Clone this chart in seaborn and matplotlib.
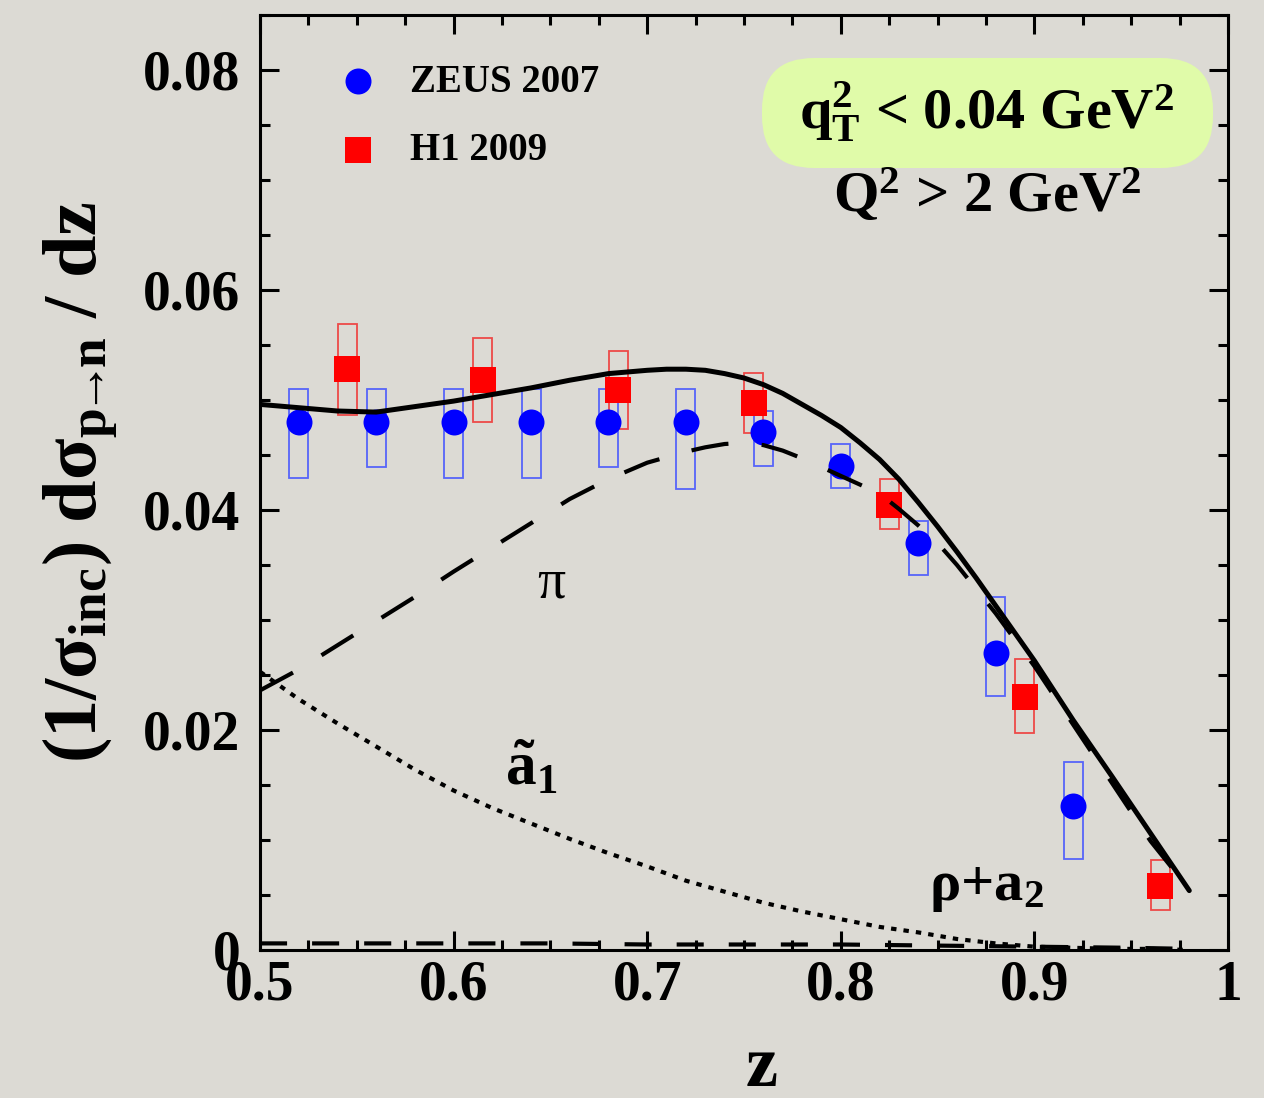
import numpy as np
import matplotlib
matplotlib.use("Agg")
import matplotlib.pyplot as plt
import seaborn as sns
from matplotlib.patches import FancyBboxPatch
from matplotlib.ticker import FixedLocator, FixedFormatter, MultipleLocator

# ---------------- data ----------------
zeus_z = [0.52, 0.56, 0.60, 0.64, 0.68, 0.72, 0.76, 0.80, 0.84, 0.88, 0.92]
zeus_val = [0.0480, 0.0480, 0.0480, 0.0480, 0.0480, 0.0480, 0.0471, 0.0440, 0.0370, 0.0270, 0.0131]
zeus_lo = [0.0429, 0.0439, 0.0429, 0.0429, 0.0439, 0.0419, 0.0440, 0.0420, 0.0341, 0.0231, 0.0083]
zeus_hi = [0.0510, 0.0510, 0.0510, 0.0510, 0.0510, 0.0510, 0.0490, 0.0460, 0.0390, 0.0321, 0.0171]

h1_z = [0.545, 0.615, 0.685, 0.755, 0.825, 0.895, 0.965]
h1_val = [0.0528, 0.0518, 0.0509, 0.0497, 0.0405, 0.0230, 0.0058]
h1_lo = [0.0486, 0.0480, 0.0474, 0.0470, 0.0383, 0.0197, 0.0036]
h1_hi = [0.0569, 0.0556, 0.0545, 0.0525, 0.0428, 0.0265, 0.0082]

# full model (solid)
total_z = [0.50, 0.52, 0.54, 0.56, 0.58, 0.60, 0.62, 0.64, 0.66, 0.68, 0.70, 0.71, 0.72,
           0.73, 0.74, 0.75, 0.76, 0.77, 0.78, 0.79, 0.80, 0.81, 0.82, 0.83, 0.84, 0.85,
           0.86, 0.87, 0.88, 0.89, 0.90, 0.92, 0.94, 0.96, 0.98]
total = [0.0496, 0.0493, 0.0490, 0.0489, 0.0494, 0.0499, 0.0505, 0.0511, 0.0518, 0.0524,
         0.0527, 0.0528, 0.0528, 0.0527, 0.0524, 0.0520, 0.0514, 0.0506, 0.0496, 0.0486,
         0.0475, 0.0461, 0.0446, 0.0428, 0.0407, 0.0385, 0.0362, 0.0338, 0.0313, 0.0288,
         0.0263, 0.0209, 0.0158, 0.0106, 0.0054]
# pion exchange (dashed)
pion_z = [0.50, 0.52, 0.54, 0.56, 0.58, 0.60, 0.62, 0.64, 0.66, 0.68, 0.70, 0.71, 0.72,
          0.73, 0.74, 0.75, 0.76, 0.77, 0.78, 0.79, 0.80, 0.81, 0.82, 0.83, 0.84, 0.85,
          0.86, 0.88, 0.90, 0.92, 0.94, 0.96, 0.98]
pion = [0.0236, 0.0255, 0.0277, 0.0299, 0.0321, 0.0344, 0.0366, 0.0388, 0.0410, 0.0428,
        0.0443, 0.0448, 0.0453, 0.0457, 0.0460, 0.0461, 0.0459, 0.0454, 0.0447, 0.0439,
        0.0431, 0.0423, 0.0415, 0.0401, 0.0386, 0.0370, 0.0350, 0.0306, 0.0258, 0.0205,
        0.0152, 0.0099, 0.0055]
# a1-tilde exchange (dotted)
a1_z = [0.50, 0.52, 0.54, 0.56, 0.58, 0.60, 0.62, 0.64, 0.66, 0.68, 0.70, 0.72, 0.74,
        0.76, 0.78, 0.80, 0.82, 0.84, 0.86, 0.88, 0.90, 0.92, 0.94, 0.96, 0.98]
a1 = [0.0253, 0.0228, 0.0206, 0.0185, 0.0164, 0.0145, 0.0129, 0.0115, 0.0101, 0.0088,
      0.0076, 0.0063, 0.0053, 0.0043, 0.0035, 0.0028, 0.0021, 0.0016, 0.0010, 0.0006,
      0.0003, 0.0002, 0.0001, 0.0001, 0.0000]
# rho + a2 exchange (dashed, near zero)
rho_z = [0.50, 0.55, 0.60, 0.65, 0.70, 0.75, 0.80, 0.85, 0.90, 0.95, 0.98]
rho_a2 = [0.0006, 0.0006, 0.0006, 0.0006, 0.0005, 0.0005, 0.0005, 0.0004, 0.0003, 0.0002, 0.0001]

x_ticks = [0.5, 0.6, 0.7, 0.8, 0.9, 1.0]
x_tick_labels = ["0.5", "0.6", "0.7", "0.8", "0.9", "1"]
y_ticks = [0.0, 0.02, 0.04, 0.06, 0.08]
y_tick_labels = ["0", "0.02", "0.04", "0.06", "0.08"]

# ---------------- style ----------------
sns.set_theme(style="ticks")
plt.rcParams["font.family"] = ["Liberation Serif", "DejaVu Serif"]
plt.rcParams["mathtext.fontset"] = "custom"
plt.rcParams["mathtext.rm"] = "Liberation Serif"
plt.rcParams["mathtext.bf"] = "Liberation Serif:bold"
plt.rcParams["mathtext.it"] = "Liberation Serif:italic"
plt.rcParams["text.color"] = "black"

bg = "#dcdad4"
W, H = 1264, 1098
fig = plt.figure(figsize=(W / 100, H / 100), dpi=100, facecolor=bg)
ax = fig.add_axes([260 / W, 1 - 950 / H, 968 / W, 935 / H], facecolor=bg)


def fx(px):
    return px / W


def fy(py):
    return 1 - py / H


# systematic boxes
ax.bar(zeus_z, np.subtract(zeus_hi, zeus_lo), bottom=zeus_lo, width=0.0098,
       fill=False, edgecolor="#4050ff", linewidth=1.3, alpha=0.85, zorder=2)
ax.bar(h1_z, np.subtract(h1_hi, h1_lo), bottom=h1_lo, width=0.0098,
       fill=False, edgecolor="#f03030", linewidth=1.3, alpha=0.85, zorder=2)

# data points
sns.scatterplot(x=zeus_z, y=zeus_val, marker="o", s=350, color="#0000ff",
                linewidth=0, ax=ax, label="ZEUS 2007", zorder=3)
sns.scatterplot(x=h1_z, y=h1_val, marker="s", s=350, color="#ff0000",
                linewidth=0, ax=ax, label="H1 2009", zorder=3)

# theory curves
sns.lineplot(x=total_z, y=total, color="black", linewidth=3.6, ax=ax, zorder=5,
             errorbar=None, legend=False)
sns.lineplot(x=pion_z, y=pion, color="black", linewidth=3.0, ax=ax, zorder=5,
             errorbar=None, legend=False, linestyle=(0, (9, 8)))
sns.lineplot(x=a1_z, y=a1, color="black", linewidth=3.0, ax=ax, zorder=5,
             errorbar=None, legend=False, linestyle=(0, (1.3, 1.7)))
sns.lineplot(x=rho_z, y=rho_a2, color="black", linewidth=3.0, ax=ax, zorder=5,
             errorbar=None, legend=False, linestyle=(0, (6.5, 6)))

# axes
ax.set_xlim(0.5, 1.0)
ax.set_ylim(0.0, 0.085)
ax.xaxis.set_major_locator(FixedLocator(x_ticks))
ax.xaxis.set_major_formatter(FixedFormatter(x_tick_labels))
ax.xaxis.set_minor_locator(MultipleLocator(0.025))
ax.yaxis.set_major_locator(FixedLocator(y_ticks))
ax.yaxis.set_major_formatter(FixedFormatter(y_tick_labels))
ax.yaxis.set_minor_locator(MultipleLocator(0.005))
ax.tick_params(which="both", direction="in", top=True, right=True, width=2.2,
               color="black", labelsize=40, labelcolor="black")
ax.tick_params(which="major", length=13.5)
ax.tick_params(which="minor", length=7)
ax.tick_params(axis="x", which="major", pad=7)
ax.tick_params(axis="y", which="major", pad=14)
for lab in ax.get_xticklabels() + ax.get_yticklabels():
    lab.set_fontweight("bold")
for sp in ax.spines.values():
    sp.set_linewidth(2.2)
    sp.set_color("black")
ax.set_xlabel("")
ax.set_ylabel("")

# legend
ax.legend(loc="upper left", bbox_to_anchor=(0.0733, 0.948), frameon=False,
          prop=dict(family="Liberation Serif", weight="bold", size=28),
          labelcolor="black", handlelength=1.4, handletextpad=0.62,
          labelspacing=0.8, borderpad=0, borderaxespad=0, scatterpoints=1)

# annotation box
box = FancyBboxPatch((7.62, 9.30), 4.51, 1.10,
                     boxstyle="round,pad=0,rounding_size=0.52",
                     transform=fig.dpi_scale_trans, facecolor="#e0fba9",
                     edgecolor="none", zorder=1)
ax.add_patch(box)

fig.text(fx(987), fy(112), r"$\mathbf{q_T^2}$ < 0.04 GeV$^\mathbf{2}$", ha="center",
         va="center", fontsize=42, fontweight="bold", color="black")
fig.text(fx(987), fy(195), r"Q$^\mathbf{2}$ > 2 GeV$^\mathbf{2}$", ha="center",
         va="center", fontsize=42, fontweight="bold", color="black")

# curve labels
fig.text(fx(551), fy(584), "π", ha="center", va="center", fontsize=40,
         color="black")
fig.text(fx(531), fy(770), r"$\mathbf{\tilde{a}_1}$", ha="center", va="center",
         fontsize=44, color="black")
fig.text(fx(986), fy(888), r"ρ+a$_\mathbf{2}$", ha="center", va="center",
         fontsize=42, fontweight="bold", color="black")

# axis titles
fig.text(fx(762), fy(1068), "z", ha="center", va="center", fontsize=52,
         fontweight="bold", color="black")
fig.text(fx(80), fy(482), r"$\mathbf{(1/σ_{inc})\ dσ_{p\!→\!n}\ /\ dz}$",
         ha="center", va="center", rotation=90, fontsize=55, color="black")

fig.savefig("out.png", dpi=100, facecolor=bg)
